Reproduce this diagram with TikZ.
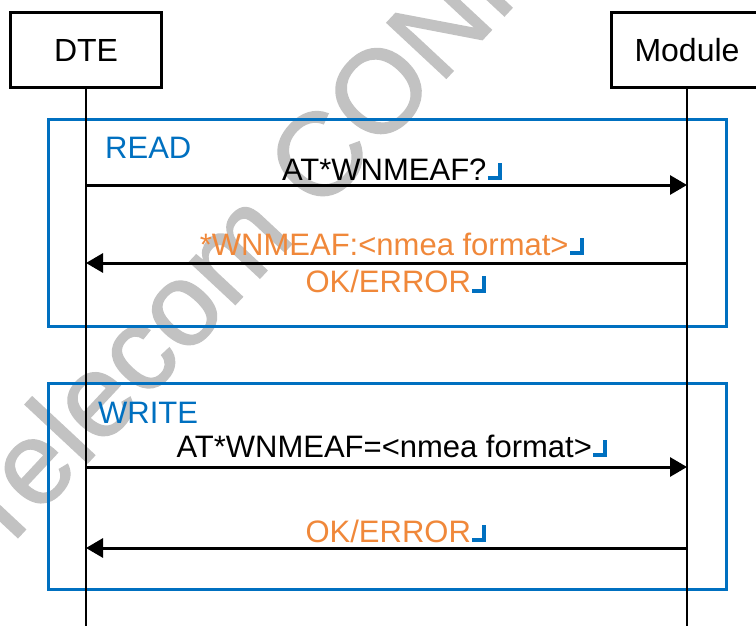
\documentclass[tikz,border=0pt]{standalone}
\usepackage{fontspec}
\setmainfont{Liberation Sans}
\newfontfamily\wmfont[FakeBold=1.2]{Liberation Sans}
\usetikzlibrary{arrows.meta}
\definecolor{boxblue}{HTML}{0070C0}
\definecolor{msgorange}{HTML}{F0883A}
\definecolor{wmgray}{HTML}{C2C2C2}
\newcommand{\retmark}{\kern1.5pt\textcolor{boxblue}{\rule{10pt}{4pt}\rule{4pt}{17pt}}}
\begin{document}
\begin{tikzpicture}[x=1pt,y=-1pt,
  every node/.style={inner sep=0pt, font=\fontsize{31}{36}\selectfont},
  actor/.style={draw, fill=white, line width=3pt, minimum width=151pt, minimum height=75pt, font=\fontsize{32}{38}\selectfont},
  lifeline/.style={line width=2.7pt},
  frame/.style={draw=boxblue, line width=3pt, minimum width=678pt, minimum height=206pt},
  framelabel/.style={text=boxblue, anchor=base west},
  msg/.style={line width=3pt, -{Triangle[length=17pt,width=19pt]}},
  reply/.style={text=msgorange, anchor=base},
  call/.style={text=black, anchor=base},
  watermark/.style={text=wmgray, rotate=47, anchor=base west, font=\wmfont\fontsize{118}{118}\selectfont}]
\useasboundingbox (0,0) rectangle (756,626);
\clip (0,0) rectangle (756,626);
\fill[white] (0,0) rectangle (756,626);
% watermark
\node[watermark] (wm) at (-3,560) {Telecom CONF};
% frames
\node[frame] (read) at (387,223) {};
\node[frame] (write) at (387,486) {};
% actors
\node[actor] (dte) at (86,50) {DTE};
\node[actor] (mod) at (687,50) {Module};
\coordinate (dend) at (86,626);
\coordinate (mend) at (687,626);
\draw[lifeline] (dte.south) -- (dend);
\draw[lifeline] (mod.south) -- (mend);
% message anchors
\coordinate (d1) at (86,185);   \coordinate (m1) at (687,185);
\coordinate (d2) at (86,263);   \coordinate (m2) at (687,263);
\coordinate (d3) at (86,467);   \coordinate (m3) at (687,467);
\coordinate (d4) at (86,548);   \coordinate (m4) at (687,548);
\draw[msg] (d1) -- (m1);
\draw[msg] (m2) -- (d2);
\draw[msg] (d3) -- (m3);
\draw[msg] (m4) -- (d4);
% labels
\node[framelabel] (lread) at (105,158) {READ};
\node[framelabel] (lwrite) at (98,423) {WRITE};
\node[call] (t1) at (392,180) {AT*WNMEAF?\retmark};
\node[reply] (t2) at (392,255) {*WNMEAF:<nmea format>\retmark};
\node[reply] (t3) at (396,292.7) {OK/ERROR\retmark};
\node[call] (t4) at (392,457) {AT*WNMEAF=<nmea format>\retmark};
\node[reply] (t5) at (396,542) {OK/ERROR\retmark};
\end{tikzpicture}
\end{document}
